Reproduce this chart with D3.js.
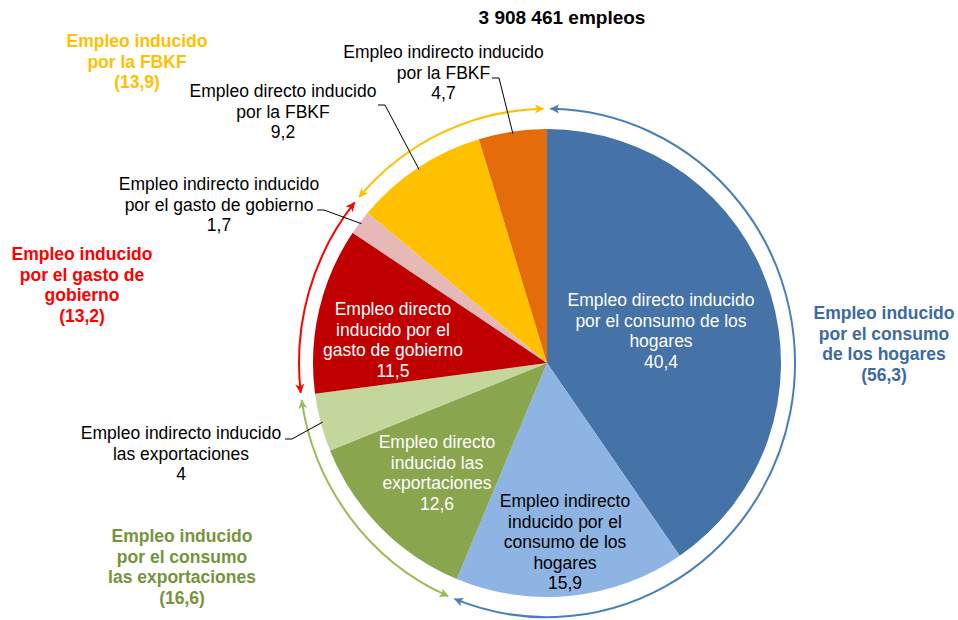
<!DOCTYPE html>
<html><head><meta charset="utf-8">
<script src="https://cdn.jsdelivr.net/npm/d3@7"></script>
<style>
body{margin:0;background:#fff}
svg{display:block}
text{font-family:"Liberation Sans",Arial,sans-serif}
</style>
</head><body>
<svg id="chart" width="958" height="620"></svg>
<script>
// ---------------- DATA ----------------
const title = "3 908 461 empleos";
const categories = [
  "Empleo directo inducido por el consumo de los hogares",
  "Empleo indirecto inducido por el consumo de los hogares",
  "Empleo directo inducido las exportaciones",
  "Empleo indirecto inducido las exportaciones",
  "Empleo directo inducido por el gasto de gobierno",
  "Empleo indirecto inducido por el gasto de gobierno",
  "Empleo directo inducido por la FBKF",
  "Empleo indirecto inducido por la FBKF"
];
const values = [40.4, 15.9, 12.6, 4, 11.5, 1.7, 9.2, 4.7];
const sliceLabelLines = [
  ["Empleo directo inducido", "por el consumo de los", "hogares"],
  ["Empleo indirecto", "inducido por el", "consumo de los", "hogares"],
  ["Empleo directo", "inducido las", "exportaciones"],
  ["Empleo indirecto inducido", "las exportaciones"],
  ["Empleo directo", "inducido por el", "gasto de gobierno"],
  ["Empleo indirecto inducido", "por el gasto de gobierno"],
  ["Empleo directo inducido", "por la FBKF"],
  ["Empleo indirecto inducido", "por la FBKF"]
];
const groupNames = [
  "Empleo inducido por el consumo de los hogares",
  "Empleo inducido por el consumo las exportaciones",
  "Empleo inducido por el gasto de gobierno",
  "Empleo inducido por la FBKF"
];
const groupValues = [56.3, 16.6, 13.2, 13.9];
const groupLabelLines = [
  ["Empleo inducido", "por el consumo", "de los hogares"],
  ["Empleo inducido", "por el consumo", "las exportaciones"],
  ["Empleo inducido", "por el gasto de", "gobierno"],
  ["Empleo inducido", "por la FBKF"]
];

// ---------------- STYLE / LAYOUT ----------------
const W = 958, H = 620;
const cx = 547, cy = 363, R = 234;
const arcR = 248, arcScaleY = 1.025, arcPad = 0.8 * Math.PI / 180;
const fontSize = 17.5, lineH = 20.5;
const sliceColors = ["#4572a7", "#8eb4e3", "#89a54e", "#c3d69b", "#c00000", "#e6b9b8", "#ffc000", "#e46c0a"];
const groupArcColors = ["#4a7ebb", "#9bbb59", "#ff0000", "#ffc000"];
const groupTextColors = ["#3d6a9f", "#77933c", "#ff0000", "#ffc000"];
const sliceLabelPos = [
  {x: 661, y: 306, fill: "#fff"},
  {x: 565, y: 507, fill: "#000"},
  {x: 437, y: 448, fill: "#fff"},
  {x: 181, y: 439, fill: "#000", leader: [285, 439]},
  {x: 393, y: 315, fill: "#fff"},
  {x: 219, y: 190, fill: "#000", leader: [317, 210]},
  {x: 283, y: 97, fill: "#000", leader: [378, 105]},
  {x: 443.5, y: 58, fill: "#000", leader: [492, 78]}
];
const groupLabelPos = [
  {x: 884, y: 319},
  {x: 182, y: 542},
  {x: 82, y: 260},
  {x: 137, y: 47}
];
const fmt = v => String(v).replace(".", ",");

// ---------------- DRAW ----------------
const svg = d3.select("#chart");
const defs = svg.append("defs");
groupArcColors.forEach((c, i) => {
  defs.append("marker")
    .attr("id", "arrow" + i)
    .attr("viewBox", "0 0 10 10")
    .attr("refX", 9.5).attr("refY", 5)
    .attr("markerUnits", "userSpaceOnUse")
    .attr("markerWidth", 10).attr("markerHeight", 9)
    .attr("orient", "auto-start-reverse")
    .append("path")
    .attr("d", "M0,0 L10,5 L0,10 L2.5,5 Z")
    .attr("fill", c);
});

// title
svg.append("text")
  .attr("x", 562).attr("y", 24)
  .attr("text-anchor", "middle")
  .attr("font-weight", "bold")
  .attr("font-size", 19)
  .text(title);

// pie
const pie = d3.pie().sort(null).value(d => d);
const arcs = pie(values);
const arcGen = d3.arc().innerRadius(0).outerRadius(R);
const g = svg.append("g").attr("transform", `translate(${cx},${cy})`);
g.selectAll("path.slice").data(arcs).join("path")
  .attr("class", "slice")
  .attr("d", arcGen)
  .attr("fill", (d, i) => sliceColors[i]);

// group arcs with arrows
const garcs = d3.pie().sort(null).value(d => d)(groupValues);
const ga = svg.append("g").attr("transform", `translate(${cx},${cy}) scale(1,${arcScaleY})`);
garcs.forEach((d, i) => {
  const p = d3.path();
  const a0 = d.startAngle + arcPad - Math.PI / 2;
  const a1 = d.endAngle - arcPad - Math.PI / 2;
  p.arc(0, 0, arcR, a0, a1);
  ga.append("path")
    .attr("d", p.toString())
    .attr("fill", "none")
    .attr("stroke", groupArcColors[i])
    .attr("stroke-width", 2)
    .attr("marker-start", `url(#arrow${i})`)
    .attr("marker-end", `url(#arrow${i})`);
});

// leader lines
arcs.forEach((d, i) => {
  const lp = sliceLabelPos[i];
  if (!lp.leader) return;
  const mid = (d.startAngle + d.endAngle) / 2;
  const ex = cx + (R - 2) * Math.sin(mid), ey = cy - (R - 2) * Math.cos(mid);
  const [sx, sy] = lp.leader;
  svg.append("path")
    .attr("d", `M${sx},${sy} L${sx + 7},${sy} L${ex},${ey}`)
    .attr("fill", "none")
    .attr("stroke", "#000")
    .attr("stroke-width", 1);
});

// slice labels
arcs.forEach((d, i) => {
  const lp = sliceLabelPos[i];
  const lines = sliceLabelLines[i].concat([fmt(values[i])]);
  const t = svg.append("text")
    .attr("text-anchor", "middle")
    .attr("font-size", fontSize)
    .attr("fill", lp.fill);
  lines.forEach((ln, k) => {
    t.append("tspan").attr("x", lp.x).attr("y", lp.y + k * lineH).text(ln);
  });
});

// group labels
groupValues.forEach((v, i) => {
  const lp = groupLabelPos[i];
  const lines = groupLabelLines[i].concat(["(" + fmt(v) + ")"]);
  const t = svg.append("text")
    .attr("text-anchor", "middle")
    .attr("font-size", fontSize)
    .attr("font-weight", "bold")
    .attr("fill", groupTextColors[i]);
  lines.forEach((ln, k) => {
    t.append("tspan").attr("x", lp.x).attr("y", lp.y + k * lineH).text(ln);
  });
});
</script>
</body></html>
